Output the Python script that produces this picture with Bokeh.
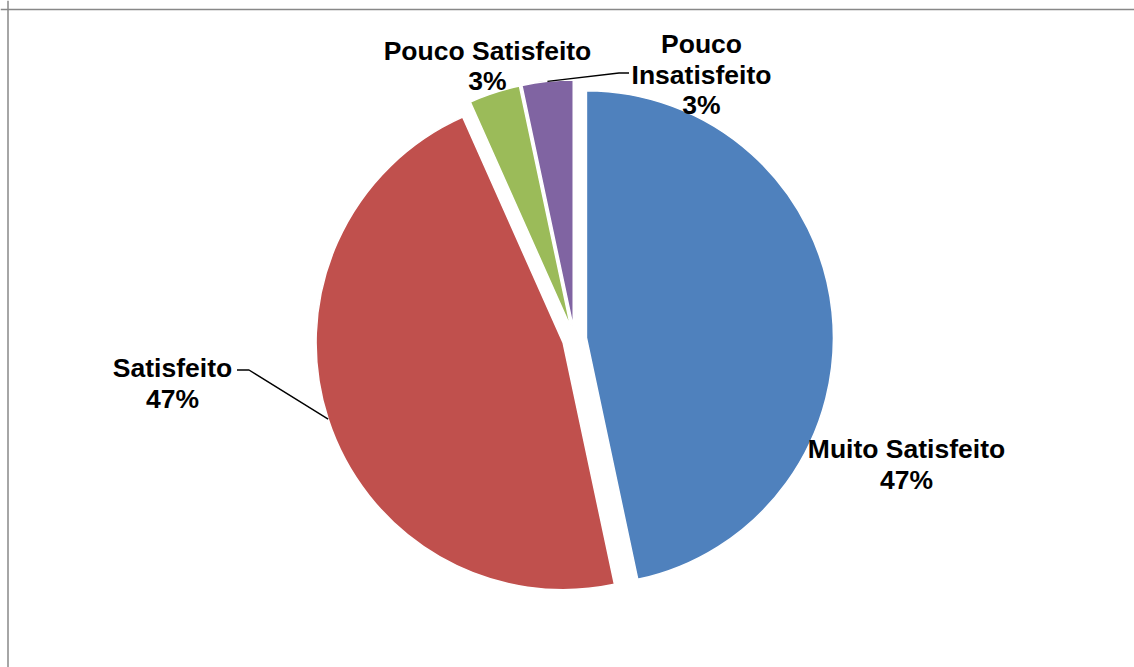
import math
from bokeh.plotting import figure
from bokeh.models import Range1d, Span
from bokeh.core.properties import value
from bokeh.embed import file_html
from bokeh.resources import INLINE

# ---- data ----
categories = ["Muito Satisfeito", "Satisfeito", "Pouco Satisfeito", "Pouco Insatisfeito"]
counts = [14, 14, 1, 1]
colors = ["#4F81BD", "#C0504D", "#9BBB59", "#8064A2"]

# label lines (category split over lines) and their layout (page px: centre x, first baseline y)
label_lines = [["Muito Satisfeito"], ["Satisfeito"], ["Pouco Satisfeito"], ["Pouco", "Insatisfeito"]]
label_pos = [(906, 448.5), (172, 367.5), (487, 50), (701, 43.5)]
line_step = 30.5
# leader lines: (elbow, end) in page px, None when no leader
leaders = [None, ((248.5, 369.5), (236.5, 369.5)), None, ((618.5, 72.5), (628.5, 72.5))]

# ---- layout ----
W, H = 1134, 667
PAGE_LEFT, PAGE_TOP = 0, 0
CENTER = (574.0, 338.5)   # page px
EXPLODE = 12.0
RADIUS = 247.0


def dy(page_y):
    return (PAGE_TOP + H) - page_y


p = figure(width=W, height=H, x_range=Range1d(PAGE_LEFT, PAGE_LEFT + W), y_range=Range1d(0, H),
           output_backend="svg", toolbar_location=None, min_border=0)
p.axis.visible = False
p.grid.visible = False
p.outline_line_color = None
p.background_fill_color = "white"
p.border_fill_color = "white"

# chart area border (left and top visible)
p.add_layout(Span(location=7.5, dimension="height", line_color="#888888", line_width=1.5))
p.add_layout(Span(location=dy(9.0), dimension="width", line_color="#888888", line_width=1.5))

total = float(sum(counts))
ang = 90.0
starts, ends, xs, ys, mids = [], [], [], [], []
for v in counts:
    sweep = 360.0 * v / total
    a_end = ang
    a_start = ang - sweep
    mid = ang - sweep / 2.0
    starts.append(math.radians(a_start))
    ends.append(math.radians(a_end))
    xs.append(CENTER[0] + EXPLODE * math.cos(math.radians(mid)))
    ys.append(dy(CENTER[1]) + EXPLODE * math.sin(math.radians(mid)))
    mids.append(mid)
    ang = a_start

p.wedge(x=xs, y=ys, radius=RADIUS, start_angle=starts, end_angle=ends,
        fill_color=colors, line_color="white", line_width=1.5)

# leader lines
for i, ld in enumerate(leaders):
    if ld is None:
        continue
    ax = xs[i] + RADIUS * math.cos(math.radians(mids[i]))
    ay = ys[i] + RADIUS * math.sin(math.radians(mids[i]))
    (ex, ey), (fx, fy) = ld
    p.line(x=[ax, ex, fx], y=[ay, dy(ey), dy(fy)], line_color="black", line_width=1.4)

# labels
tx, ty, tt = [], [], []
for i, lines in enumerate(label_lines):
    pct = "%d%%" % round(100.0 * counts[i] / total)
    cx, by = label_pos[i]
    for k, s in enumerate(lines + [pct]):
        tx.append(cx)
        ty.append(dy(by + k * line_step))
        tt.append(s)

p.text(x=tx, y=ty, text=tt, text_align="center", text_baseline="alphabetic",
       text_font=value("Liberation Sans"), text_font_style="bold",
       text_font_size="26.5px", text_color="black")

open("out.html", "w").write(file_html(p, INLINE))
